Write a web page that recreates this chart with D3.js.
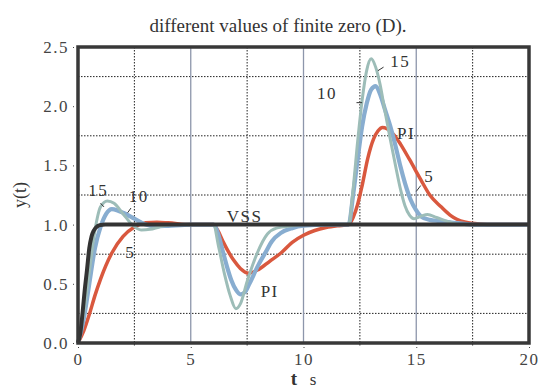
<!DOCTYPE html>
<html>
<head>
    <title>finite zero</title>
    <script src="https://d3js.org/d3.v7.min.js"></script>
    <style type="text/css">
        body{ margin:0; background:#fff; }
        .axis path{ display:none; }
        .axis line{ stroke:#444; stroke-width:1; }
        .axis text{
            font-family: "Times New Roman", "Liberation Serif", "DejaVu Serif", serif;
            font-size: 17px;
            letter-spacing: 1.5px;
            fill: #444;
        }
        .lbl{ font-family: "Times New Roman", "Liberation Serif", serif; font-size:17px; fill:#333; }
        .ttl{ font-family: "Times New Roman", "Liberation Serif", serif; fill:#333; }
    </style>
</head>
<body>
<script>
    var w = 540;
    var h = 390;
    var margin = {top: 47, right: 11, bottom: 47, left: 78};

    var xTicks = [0, 5, 10, 15, 20];
    var yTicks = [0, 0.5, 1.0, 1.5, 2.0, 2.5];
    var xDotted = [2.5, 7.5, 12.5, 17.5];
    var yDotted = [0.25, 0.75, 1.25, 1.75, 2.25];

    // VSS controller
    var vss = [[0,0],[0.1,0.08],[0.2,0.25],[0.3,0.45],[0.4,0.62],[0.5,0.8],[0.6,0.9],[0.7,0.95],
               [0.85,0.985],[1.0,0.997],[1.2,1.0],[6,1.0],[12,1.0],[20,1.0]];
    // PI / D = 5
    var pi = [[0,0],[0.25,0.1],[0.5,0.24],[0.75,0.4],[1.0,0.54],[1.5,0.76],[2.0,0.9],[2.5,0.98],
              [3.0,1.015],[3.5,1.02],[4.0,1.015],[5,1.0],[6,1.0],
              [6.2,0.95],[6.45,0.85],[6.9,0.70],[7.2,0.63],[7.57,0.59],[8.0,0.62],[8.5,0.69],
              [9.0,0.76],[9.5,0.85],[10.0,0.91],[10.5,0.95],[11,0.975],[11.5,0.99],[12,1.0],
              [12.2,1.06],[12.4,1.17],[12.6,1.33],[12.85,1.56],[13.1,1.72],[13.3,1.79],[13.5,1.82],
              [13.7,1.81],[14.0,1.76],[14.3,1.68],[14.7,1.55],[15.2,1.38],[15.6,1.25],[16.1,1.15],
              [16.5,1.08],[16.8,1.045],[17.2,1.02],[17.8,1.005],[18.5,1.0],[20,1.0]];
    // D = 10
    var d10 = [[0,0],[0.25,0.2],[0.5,0.5],[0.75,0.8],[1.0,0.98],[1.25,1.09],[1.5,1.13],[1.75,1.12],
               [2.0,1.1],[2.5,1.05],[3.0,1.0],[3.5,0.985],[4,0.99],[5,1.0],[6,1.0],
               [6.2,0.93],[6.4,0.79],[6.6,0.65],[6.8,0.53],[7.0,0.45],[7.2,0.41],[7.4,0.43],
               [7.6,0.5],[8.0,0.66],[8.3,0.76],[8.6,0.86],[9.0,0.93],[9.5,0.97],[10,0.99],[11,1.0],[12,1.0],
               [12.2,1.25],[12.4,1.55],[12.6,1.83],[12.8,2.02],[13.0,2.14],[13.2,2.17],[13.4,2.1],
               [13.6,1.98],[13.85,1.83],[14.1,1.65],[14.3,1.49],[14.5,1.35],[14.75,1.21],[15.0,1.12],
               [15.2,1.07],[15.6,1.04],[16,1.03],[16.5,1.02],[17.5,1.0],[20,1.0]];
    // D = 15
    var d15 = [[0,0],[0.25,0.25],[0.5,0.6],[0.75,0.95],[1.0,1.15],[1.3,1.2],[1.6,1.18],[2.0,1.09],
               [2.4,1.0],[2.8,0.955],[3.2,0.96],[3.6,0.98],[4.2,1.0],[6,1.0],
               [6.25,0.8],[6.5,0.58],[6.75,0.4],[7.0,0.29],[7.2,0.33],[7.5,0.52],[7.95,0.76],
               [8.4,0.92],[8.8,0.97],[9.5,0.99],[10,1.0],[12,1.0],
               [12.2,1.3],[12.4,1.7],[12.6,2.05],[12.8,2.3],[13.0,2.4],[13.2,2.33],[13.4,2.18],
               [13.6,1.97],[13.85,1.72],[14.1,1.48],[14.3,1.3],[14.5,1.16],[14.7,1.08],[14.9,1.05],
               [15.2,1.07],[15.5,1.085],[15.9,1.06],[16.5,1.02],[17,1.0],[20,1.0]];

    // curve labels: text, label position (t, y), leader from / to
    var labels = [
        ["15", 0.45, 1.24, [1.0,1.18], [1.15,1.15]],
        ["10", 2.25, 1.19, [2.35,1.14], [2.2,1.1]],
        ["5", 2.1, 0.72, null, null],
        ["VSS", 6.6, 1.02, null, null],
        ["PI", 8.1, 0.39, null, null],
        ["10", 10.6, 2.06, [12.35,2.03], [12.6,2.03]],
        ["15", 13.85, 2.33, [13.3,2.3], [13.55,2.33]],
        ["PI", 14.15, 1.72, null, null],
        ["5", 15.35, 1.36, [15.2,1.33], [15.0,1.28]]
    ];

    var svg = d3.select("body").append("svg")
                .attr("width", w)
                .attr("height", h);

    var xScale = d3.scaleLinear().domain([0, 20]).range([margin.left, w - margin.right]);
    var yScale = d3.scaleLinear().domain([0, 2.5]).range([h - margin.bottom, margin.top]);

    // dotted grid
    svg.selectAll(".vdot").data(xDotted).enter().append("line")
        .attr("x1", d => xScale(d)).attr("x2", d => xScale(d))
        .attr("y1", yScale(2.5)).attr("y2", yScale(0) + 4)
        .attr("stroke", "#222").attr("stroke-width", 1).attr("stroke-dasharray", "1.5,1.5");
    svg.selectAll(".hdot").data(yDotted).enter().append("line")
        .attr("x1", xScale(0)).attr("x2", xScale(20))
        .attr("y1", d => yScale(d)).attr("y2", d => yScale(d))
        .attr("stroke", "#222").attr("stroke-width", 1).attr("stroke-dasharray", "1.5,1.5");
    // solid vertical grid
    svg.selectAll(".vsol").data([5, 10, 15]).enter().append("line")
        .attr("x1", d => xScale(d)).attr("x2", d => xScale(d))
        .attr("y1", yScale(2.5)).attr("y2", yScale(0))
        .attr("stroke", "#8d96ab").attr("stroke-width", 1.3);

    var line = d3.line()
        .x(d => xScale(d[0]))
        .y(d => yScale(d[1]))
        .curve(d3.curveMonotoneX);

    var series = [
        {data: pi, color: "#d9583e", width: 3.5},
        {data: d10, color: "#88add0", width: 4.2},
        {data: d15, color: "#9dbdb8", width: 3},
        {data: vss, color: "#333333", width: 4}
    ];
    svg.selectAll(".curve").data(series).enter().append("path")
        .attr("d", d => line(d.data))
        .attr("fill", "none")
        .attr("stroke", d => d.color)
        .attr("stroke-width", d => d.width)
        .attr("stroke-linejoin", "round");

    // frame
    svg.append("rect")
        .attr("x", xScale(0)).attr("y", yScale(2.5))
        .attr("width", xScale(20) - xScale(0))
        .attr("height", yScale(0) - yScale(2.5))
        .attr("fill", "none").attr("stroke", "#383838").attr("stroke-width", 3.5);

    // axes
    var xAxis = d3.axisBottom(xScale).tickValues(xTicks).tickSize(3).tickPadding(3)
                  .tickFormat(d3.format("d"));
    var yAxis = d3.axisLeft(yScale).tickValues(yTicks).tickSize(3).tickPadding(2)
                  .tickFormat(d3.format(".1f"));
    svg.append("g").attr("class", "axis")
        .attr("transform", "translate(0," + (yScale(0) + 4) + ")")
        .call(xAxis);
    svg.append("g").attr("class", "axis")
        .attr("transform", "translate(" + (xScale(0) - 4) + ",0)")
        .call(yAxis);
    svg.selectAll(".axis line").attr("stroke-dasharray", "1,2");

    // curve labels
    labels.forEach(function(l) {
        svg.append("text").attr("class", "lbl")
            .attr("x", xScale(l[1])).attr("y", yScale(l[2]))
            .attr("letter-spacing", "1.5px")
            .text(l[0]);
        if (l[3]) {
            svg.append("line")
                .attr("x1", xScale(l[3][0])).attr("y1", yScale(l[3][1]))
                .attr("x2", xScale(l[4][0])).attr("y2", yScale(l[4][1]))
                .attr("stroke", "#333").attr("stroke-width", 1);
        }
    });

    // titles
    svg.append("text").attr("class", "ttl")
        .attr("x", 278).attr("y", 32)
        .attr("text-anchor", "middle")
        .attr("font-size", "19px")
        .text("different values of finite zero (D).");
    svg.append("text").attr("class", "ttl")
        .attr("transform", "translate(26," + yScale(1.25) + ") rotate(-90)")
        .attr("text-anchor", "middle")
        .attr("font-size", "18px")
        .text("y(t)");
    var xt = svg.append("text").attr("class", "ttl")
        .attr("x", xScale(10)).attr("y", 385)
        .attr("text-anchor", "middle")
        .attr("font-size", "19px");
    xt.append("tspan").attr("font-weight", "bold").text("t");
    xt.append("tspan").attr("font-size", "17px").text("\u2002 s");
</script>
</body>
</html>
